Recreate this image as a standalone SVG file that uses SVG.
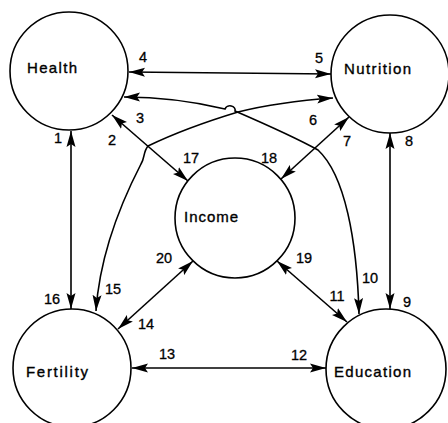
<svg xmlns="http://www.w3.org/2000/svg" width="448" height="423" viewBox="0 0 448 423">
<style>
.node{fill:#fff;stroke:#000;stroke-width:1.6}
.lbl{font-family:"Liberation Sans",Arial,sans-serif;font-size:15px;fill:#000;stroke:#000;stroke-width:0.35}
.num{font-family:"Liberation Sans",Arial,sans-serif;font-size:14.5px;fill:#000;stroke:#000;stroke-width:0.3;text-anchor:middle}
.c{fill:none;stroke:#000;stroke-width:1.6;marker-start:url(#ah);marker-end:url(#ah)}
</style>
<defs>
<marker id="ah" markerUnits="userSpaceOnUse" markerWidth="17" markerHeight="10" refX="16" refY="5" orient="auto-start-reverse">
<path d="M0,0.5 L16,5 L0,9.5 L3,5 z" fill="#000"/>
</marker>
</defs>
<rect width="448" height="423" fill="#fff"/>
<g id="connectors">
<path class="c" d="M129,72 L331,74"/>
<path class="c" d="M124,97 C165,97 200,103 225,109 A5,4 0 0 1 235,111 C265,124 300,140 318,150 C345,175 357,240 359,314"/>
<path class="c" d="M333,98 C290,101 262,106 238,112 C205,122 175,133 148,146 C143,152 145,158 141,164 C125,195 100,250 96,311"/>
<path class="c" d="M112,115 L188,181"/>
<path class="c" d="M349,117 L281,179"/>
<path class="c" d="M71,131 L71,309"/>
<path class="c" d="M390,133 L390,309"/>
<path class="c" d="M193,261 L118,329"/>
<path class="c" d="M277,261 L347,322"/>
<path class="c" d="M132,368 L326,368"/>
</g>
<g id="health"><circle class="node" cx="69" cy="71" r="59"/><text class="lbl" x="27" y="73" textLength="50">Health</text></g>
<g id="nutrition"><circle class="node" cx="390" cy="74" r="59"/><text class="lbl" x="344" y="74" textLength="67">Nutrition</text></g>
<g id="income"><circle class="node" cx="235" cy="218" r="60"/><text class="lbl" x="184" y="222" textLength="54">Income</text></g>
<g id="fertility"><circle class="node" cx="72" cy="368" r="59"/><text class="lbl" x="26" y="377" textLength="62">Fertility</text></g>
<g id="education"><circle class="node" cx="386" cy="369" r="60"/><text class="lbl" x="334" y="377" textLength="77">Education</text></g>
<g id="labels">
<text class="num" x="58" y="143">1</text>
<text class="num" x="112" y="145">2</text>
<text class="num" x="140" y="123">3</text>
<text class="num" x="143" y="62">4</text>
<text class="num" x="319" y="63">5</text>
<text class="num" x="313" y="125">6</text>
<text class="num" x="347" y="146">7</text>
<text class="num" x="409" y="146">8</text>
<text class="num" x="407" y="307">9</text>
<text class="num" x="370" y="283">10</text>
<text class="num" x="337" y="301">11</text>
<text class="num" x="299" y="360">12</text>
<text class="num" x="167" y="359">13</text>
<text class="num" x="146" y="329">14</text>
<text class="num" x="113" y="294">15</text>
<text class="num" x="52" y="304">16</text>
<text class="num" x="191" y="163">17</text>
<text class="num" x="269" y="163">18</text>
<text class="num" x="304" y="263">19</text>
<text class="num" x="164" y="263">20</text>
</g>
</svg>
